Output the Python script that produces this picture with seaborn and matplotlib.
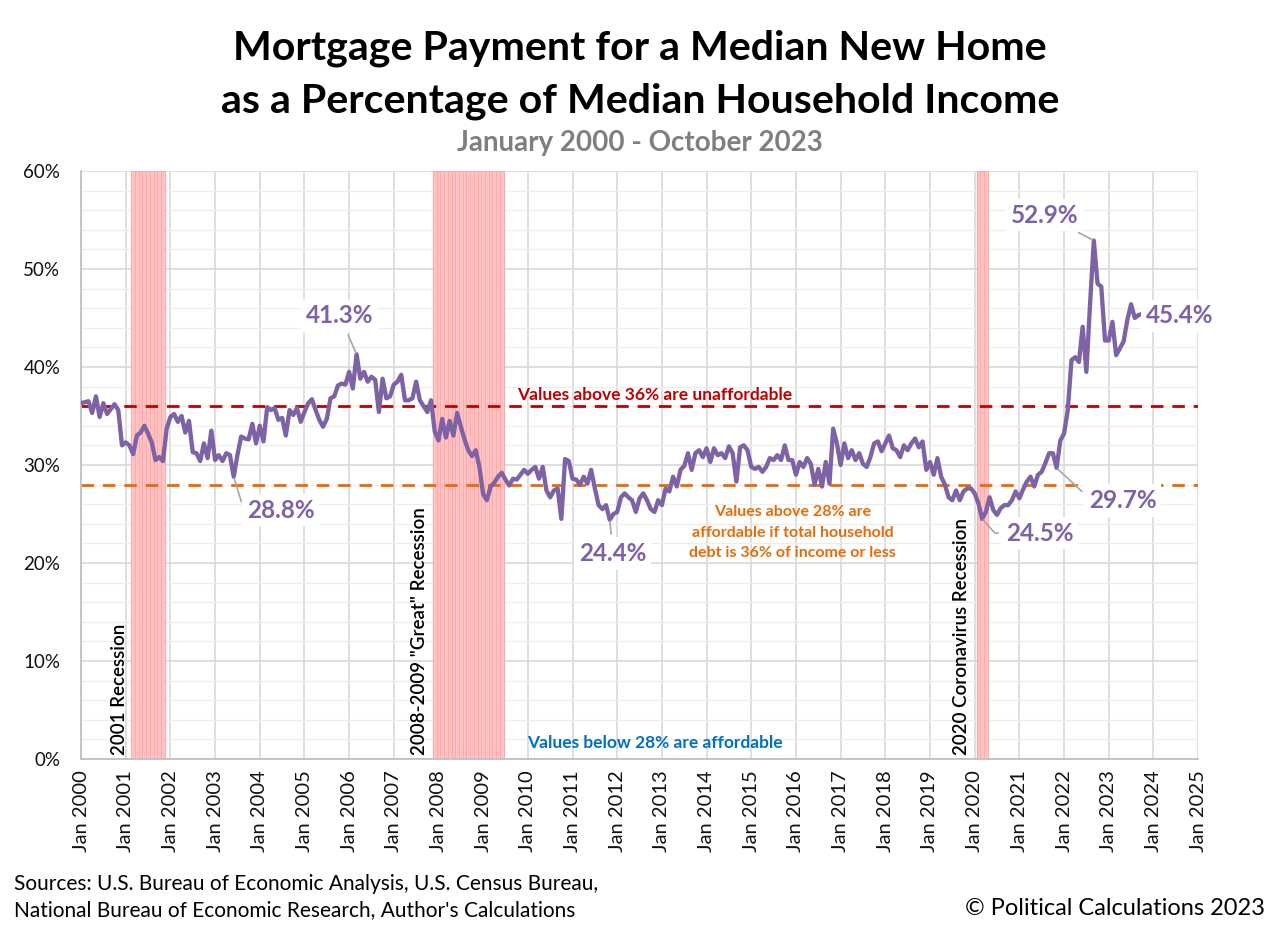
import numpy as np
import pandas as pd
import matplotlib
matplotlib.use("Agg")
import matplotlib.pyplot as plt
import seaborn as sns

# ---------------- data (monthly, % of median household income) ----------------
v2000 = [36.3, 36.4, 36.5, 35.3, 37.0, 34.9, 36.3, 35.2, 35.7, 36.2, 35.6, 32.0]
v2001 = [32.3, 32.0, 31.1, 33.0, 33.3, 34.0, 33.2, 32.3, 30.5, 30.8, 30.4, 33.7]
v2002 = [34.9, 35.2, 34.4, 35.0, 33.3, 34.5, 31.3, 31.2, 30.4, 32.2, 30.7, 33.5]
v2003 = [30.5, 31.0, 30.4, 31.2, 31.0, 28.8, 31.0, 32.9, 32.7, 32.6, 34.2, 32.2]
v2004 = [34.0, 32.4, 35.9, 35.6, 35.8, 34.6, 34.8, 33.0, 35.6, 35.1, 35.8, 34.4]
v2005 = [35.4, 36.3, 36.7, 35.6, 34.6, 33.9, 34.7, 36.8, 37.0, 38.1, 38.3, 38.2]
v2006 = [39.5, 37.8, 41.3, 38.8, 39.5, 38.5, 39.0, 38.7, 35.4, 38.8, 36.8, 37.0]
v2007 = [38.2, 38.5, 39.2, 36.6, 36.6, 36.8, 38.5, 36.6, 36.0, 35.4, 36.6, 33.4]
v2008 = [32.5, 34.7, 32.8, 34.5, 33.0, 35.3, 33.9, 32.6, 31.5, 30.9, 31.5, 29.8]
v2009 = [27.0, 26.4, 27.8, 28.2, 28.8, 29.2, 28.5, 27.9, 28.6, 28.5, 29.0, 29.5]
v2010 = [29.1, 29.5, 29.8, 28.6, 29.8, 27.4, 26.7, 27.4, 27.6, 24.5, 30.6, 30.4]
v2011 = [28.6, 28.5, 28.0, 28.8, 28.1, 29.5, 27.6, 25.9, 25.5, 25.9, 24.4, 25.0]
v2012 = [25.2, 26.7, 27.1, 26.7, 26.4, 25.2, 26.6, 27.1, 26.4, 25.5, 25.2, 26.4]
v2013 = [25.9, 27.6, 27.3, 28.8, 27.8, 29.5, 29.9, 31.2, 29.5, 31.2, 31.5, 30.8]
v2014 = [31.7, 30.3, 31.7, 31.0, 31.2, 30.7, 31.9, 31.2, 28.3, 31.8, 32.0, 31.5]
v2015 = [29.8, 29.6, 29.8, 29.3, 29.8, 30.7, 30.5, 31.0, 30.5, 32.0, 30.5, 30.5]
v2016 = [29.0, 30.3, 29.8, 30.7, 30.1, 28.0, 29.6, 27.8, 30.3, 28.1, 33.7, 32.2]
v2017 = [30.0, 32.2, 30.7, 31.5, 30.5, 31.2, 30.1, 29.8, 30.8, 32.2, 32.4, 31.4]
v2018 = [32.2, 33.0, 31.7, 31.5, 30.8, 32.0, 31.5, 32.2, 32.7, 31.8, 32.4, 29.5]
v2019 = [30.3, 29.0, 30.7, 28.8, 28.0, 26.7, 26.4, 27.4, 26.4, 27.3, 27.6, 27.6]
v2020 = [27.1, 26.1, 24.5, 25.2, 26.7, 25.4, 24.9, 25.6, 25.9, 25.9, 26.4, 27.3]
v2021 = [26.6, 27.5, 28.3, 28.8, 27.8, 29.0, 29.3, 30.2, 31.2, 31.2, 29.7, 32.5]
v2022 = [33.2, 35.6, 40.7, 41.0, 40.5, 44.1, 39.5, 46.5, 52.9, 48.5, 48.2, 42.7]
v2023 = [42.7, 44.6, 41.2, 41.9, 42.6, 44.8, 46.4, 45.0, 45.3, 45.4]

yearly = [v2000, v2001, v2002, v2003, v2004, v2005, v2006, v2007, v2008, v2009,
          v2010, v2011, v2012, v2013, v2014, v2015, v2016, v2017, v2018, v2019,
          v2020, v2021, v2022, v2023]
values = [v for yr in yearly for v in yr]
dates = pd.date_range("2000-01-01", periods=len(values), freq="MS")
df = pd.DataFrame({"date": dates, "pct": values})
df["t"] = df["date"].dt.year + (df["date"].dt.month - 1) / 12.0

recessions = [("2001-03", "2001-11", "2001 Recession"),
              ("2007-12", "2009-06", '2008-2009 "Great" Recession'),
              ("2020-02", "2020-04", "2020 Coronavirus Recession")]

tick_years = list(range(2000, 2026))
tick_labels = [f"Jan {y}" for y in tick_years]
y_ticks = [0, 10, 20, 30, 40, 50, 60]
unaffordable_level = 36
affordable_level = 28

# callouts: (label, date of point, text position (decimal year, pct), leader angle at point)
callouts = [("41.3%", "2006-03", (2005.79, 45.2), None),
            ("28.8%", "2003-06", (2004.47, 25.4), 107),
            ("24.4%", "2011-11", (2011.90, 21.0), None),
            ("24.5%", "2020-03", (2021.45, 23.05), 132),
            ("29.7%", "2021-11", (2023.31, 26.4), 137),
            ("52.9%", "2022-09", (2021.57, 55.5), None),
            ("45.4%", "2023-10", (2024.59, 45.2), "none")]

# ---------------- styling ----------------
sns.set_theme(style="white")
plt.rcParams["font.family"] = ["Lato", "DejaVu Sans"]

PURPLE = "#7E62A6"
fig = plt.figure(figsize=(12.8, 9.3), dpi=100)
ax = fig.add_axes([0.0633, 0.1839, 0.8727, 0.6323])

# recession shading (one bar per month)
for start, end, label in recessions:
    months = pd.date_range(start + "-01", end + "-01", freq="MS")
    tt = months.year + (months.month - 1) / 12.0
    ax.bar(tt, [60] * len(tt), width=1 / 12, color="#FFC9C9", edgecolor="#FFA8A8",
           linewidth=0.8, zorder=1, align="center")
    for m in tt:
        ax.axvline(m, color="#FFB8B8", lw=0.5, zorder=1.1)

# grid
ax.set_xlim(2000, 2025)
ax.set_ylim(0, 60)
ax.set_yticks(np.arange(0, 61, 2), minor=True)
ax.yaxis.grid(True, which="minor", color="#EDEDED", lw=0.9, zorder=0)
ax.yaxis.grid(True, which="major", color="#D9D9D9", lw=1.2, zorder=0.5)
ax.set_xticks(tick_years)
ax.xaxis.grid(True, color="#D9D9D9", lw=1.2, zorder=0.5)
ax.set_axisbelow(True)

# threshold lines
ax.axhline(unaffordable_level, color="#C00000", lw=2.0, dashes=(4.5, 3.2), zorder=2)
ax.axhline(affordable_level, color="#E46C0A", lw=2.0, dashes=(4.5, 3.2), zorder=2)

# data line
sns.lineplot(data=df, x="t", y="pct", ax=ax, color=PURPLE, lw=3.1, zorder=4)

# axes cosmetics
ax.set_xlabel("")
ax.set_ylabel("")
ax.set_xticklabels(tick_labels, rotation=90, fontsize=14.5)
ax.set_yticks(y_ticks)
ax.set_yticklabels([f"{v}%" for v in y_ticks], fontsize=13.5)
for s in ["top", "right"]:
    ax.spines[s].set_visible(False)
for s in ["left", "bottom"]:
    ax.spines[s].set_color("#BFBFBF")
    ax.spines[s].set_linewidth(1.3)
ax.tick_params(axis="y", which="major", length=5, color="#BFBFBF", pad=10, labelcolor="#111111")
ax.tick_params(axis="y", which="minor", length=0)
ax.tick_params(axis="x", length=0, pad=8, labelcolor="#111111")

# recession labels
rec_label_x = [2000.87, 2007.58, 2019.71]
for (start, end, label), xx in zip(recessions, rec_label_x):
    ax.text(xx, 0.4, label, rotation=90, ha="center", va="bottom", fontsize=13.5,
            fontweight="semibold", color="black", zorder=5)

# zone notes
ax.text(2012.84, 37.1, "Values above 36% are unaffordable", color="#C00000",
        fontsize=12.5, fontweight="bold", ha="center", va="center", zorder=5)
ax.text(2015.93, 23.1, "Values above 28% are\naffordable if total household\ndebt is 36% of income or less",
        color="#E46C0A", fontsize=11.5, fontweight="bold", ha="center", va="center",
        linespacing=1.6, zorder=5)
ax.text(2012.84, 1.6, "Values below 28% are affordable", color="#0070C0",
        fontsize=12.5, fontweight="bold", ha="center", va="center", zorder=5)

# callouts
lookup = dict(zip(df["date"].dt.strftime("%Y-%m"), zip(df["t"], df["pct"])))
for label, dkey, (tx, ty), ang in callouts:
    px, py = lookup[dkey]
    bbox = dict(boxstyle="square,pad=0.2", fc="white", ec="none")
    if ang == "none":
        ax.text(tx, ty, label, color=PURPLE, fontsize=17.5, fontweight="bold",
                ha="center", va="center", bbox=bbox, zorder=6)
        continue
    if ang is None:
        cs = "arc3"
    else:
        cs = f"angle,angleA=0,angleB={ang},rad=0"
    ax.annotate(label, xy=(px, py), xytext=(tx, ty), color=PURPLE, fontsize=17.5,
                fontweight="bold", ha="center", va="center", bbox=bbox, zorder=6,
                arrowprops=dict(arrowstyle="-", color="#A6A6A6", lw=1.2,
                                connectionstyle=cs, shrinkA=2, shrinkB=1))

# titles and footers
fig.text(0.5, 1 - 48 / 930, "Mortgage Payment for a Median New Home", ha="center",
         va="center", fontsize=29.6, fontweight="bold", color="black")
fig.text(0.5, 1 - 101 / 930, "as a Percentage of Median Household Income", ha="center",
         va="center", fontsize=29.6, fontweight="bold", color="black")
fig.text(0.5, 1 - 143 / 930, "January 2000 - October 2023", ha="center", va="center",
         fontsize=20, fontweight="bold", color="#7F7F7F")
fig.text(0.011, 1 - 884 / 930, "Sources: U.S. Bureau of Economic Analysis, U.S. Census Bureau,",
         ha="left", va="center", fontsize=15, color="black")
fig.text(0.011, 1 - 910 / 930, "National Bureau of Economic Research, Author's Calculations",
         ha="left", va="center", fontsize=15, color="black")
fig.text(0.988, 1 - 908 / 930, "\u00a9 Political Calculations 2023", ha="right", va="center",
         fontsize=17, color="black")

fig.savefig("out.png", dpi=100, facecolor="white")
